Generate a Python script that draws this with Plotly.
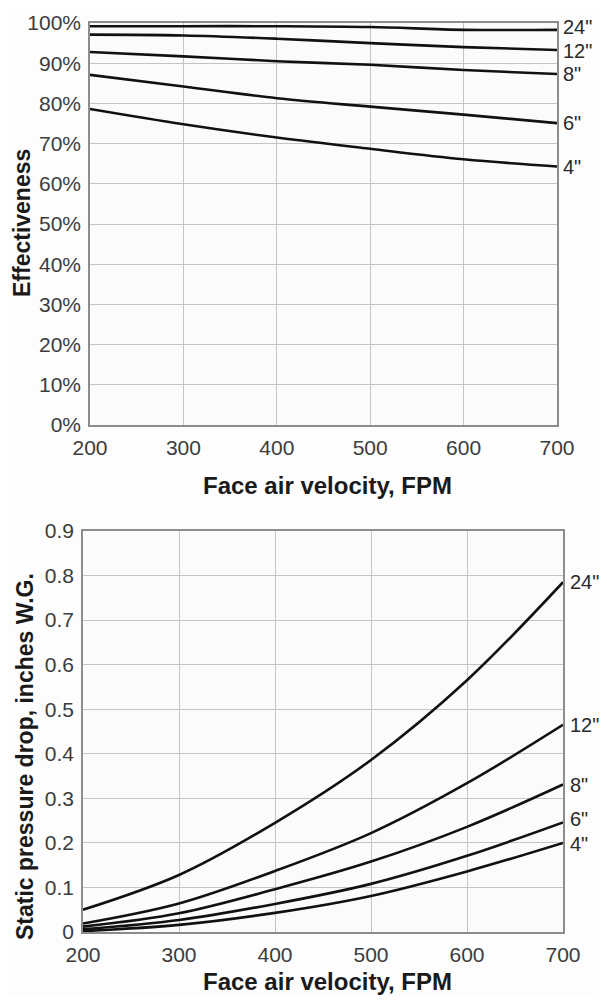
import plotly.graph_objects as go

# ---- data ----
velocity = [200, 300, 400, 500, 600, 700]
thickness_labels = ['24"', '12"', '8"', '6"', '4"']

eff_24 = [99.2, 99.2, 99.2, 99.0, 98.3, 98.3]
eff_12 = [97.1, 96.9, 96.1, 95.0, 94.0, 93.3]
eff_8 = [92.8, 91.7, 90.5, 89.6, 88.3, 87.3]
eff_6 = [87.1, 84.2, 81.3, 79.2, 77.2, 75.1]
eff_4 = [78.6, 74.8, 71.5, 68.7, 66.1, 64.3]

dp_24 = [0.050, 0.128, 0.245, 0.386, 0.565, 0.785]
dp_12 = [0.019, 0.064, 0.137, 0.222, 0.334, 0.465]
dp_8 = [0.012, 0.042, 0.096, 0.158, 0.236, 0.331]
dp_6 = [0.006, 0.027, 0.063, 0.108, 0.171, 0.246]
dp_4 = [0.002, 0.016, 0.043, 0.081, 0.136, 0.200]

eff_tick_vals = list(range(0, 101, 10))
eff_tick_text = [f"{v}%" for v in eff_tick_vals]
dp_tick_vals = [round(0.1 * i, 1) for i in range(10)]
dp_tick_text = ["0"] + [f"{v:.1f}" for v in dp_tick_vals[1:]]
x_tick_vals = [200, 300, 400, 500, 600, 700]

eff_series = [eff_24, eff_12, eff_8, eff_6, eff_4]
dp_series = [dp_24, dp_12, dp_8, dp_6, dp_4]

# small vertical nudges (px) so neighbouring end labels do not collide
eff_label_shift = [3, -1, 0, 0, 0]
dp_label_shift = [0, 0, 0, 3, -1]

# the page body has an 8px margin; size the figure to fit the window
OFF = 8
W, H = 607 - 2 * OFF, 1005 - 2 * OFF
FONT = "Liberation Sans, Arial, Helvetica, sans-serif"

fig = go.Figure()

for lab, ys in zip(thickness_labels, eff_series):
    fig.add_trace(go.Scatter(x=velocity, y=ys, mode="lines", name=lab,
                             line=dict(color="#111111", width=2.6, shape="spline", smoothing=1.0),
                             xaxis="x", yaxis="y", showlegend=False, hoverinfo="skip"))
for lab, ys in zip(thickness_labels, dp_series):
    fig.add_trace(go.Scatter(x=velocity, y=ys, mode="lines", name=lab,
                             line=dict(color="#111111", width=2.6, shape="spline", smoothing=1.0),
                             xaxis="x2", yaxis="y2", showlegend=False, hoverinfo="skip"))

def px_x(p):
    return (p - OFF) / W

def px_y(p):
    return 1 - (p - OFF) / H

axis_common = dict(showgrid=True, gridcolor="#c4c4c4", gridwidth=1,
                   showline=True, linecolor="#8c8c8c", linewidth=1.5, mirror=True,
                   zeroline=False, ticks="", automargin=False,
                   tickfont=dict(family=FONT, size=21, color="#3c3c3c"))

fig.update_layout(
    width=W, height=H,
    margin=dict(l=0, r=0, t=0, b=0, autoexpand=False),
    paper_bgcolor="#fdfdfd",
    plot_bgcolor="#fbfbfb",
    xaxis=dict(domain=[px_x(90), px_x(557)], range=[200, 700], tickvals=x_tick_vals,
               anchor="y", ticklabelstandoff=3, **axis_common),
    yaxis=dict(domain=[px_y(425), px_y(23)], range=[0, 100], tickvals=eff_tick_vals,
               ticktext=eff_tick_text, anchor="x", ticklabelstandoff=3, **axis_common),
    xaxis2=dict(domain=[px_x(83), px_x(563)], range=[200, 700], tickvals=x_tick_vals,
                anchor="y2", ticklabelstandoff=3, **axis_common),
    yaxis2=dict(domain=[px_y(932), px_y(531)], range=[0, 0.9], tickvals=dp_tick_vals,
                ticktext=dp_tick_text, anchor="x2", ticklabelstandoff=3, **axis_common),
)

annotations = []
label_font = dict(family=FONT, size=20, color="#2a2a2a")
for lab, ys, sh in zip(thickness_labels, eff_series, eff_label_shift):
    annotations.append(dict(x=velocity[-1], y=ys[-1], xref="x", yref="y", text=lab,
                            showarrow=False, xanchor="left", yanchor="middle", xshift=4,
                            yshift=sh, font=label_font))
for lab, ys, sh in zip(thickness_labels, dp_series, dp_label_shift):
    annotations.append(dict(x=velocity[-1], y=ys[-1], xref="x2", yref="y2", text=lab,
                            showarrow=False, xanchor="left", yanchor="middle", xshift=5,
                            yshift=sh, font=label_font))

xt_font = dict(family=FONT, size=24, color="#1a1a1a", weight="bold")
yt_font = dict(family=FONT, size=23, color="#1a1a1a", weight="bold")
annotations += [
    dict(x=px_x(327), y=px_y(486), xref="paper", yref="paper", text="Face air velocity, FPM",
         showarrow=False, xanchor="center", yanchor="middle", font=xt_font),
    dict(x=px_x(327), y=px_y(981), xref="paper", yref="paper", text="Face air velocity, FPM",
         showarrow=False, xanchor="center", yanchor="middle", font=xt_font),
    dict(x=px_x(22), y=px_y(223), xref="paper", yref="paper", text="Effectiveness",
         showarrow=False, xanchor="center", yanchor="middle", textangle=-90, font=yt_font),
    dict(x=px_x(25), y=px_y(757), xref="paper", yref="paper", text="Static pressure drop, inches W.G.",
         showarrow=False, xanchor="center", yanchor="middle", textangle=-90, font=yt_font),
]
fig.update_layout(annotations=annotations)

fig.write_html("out.html")
